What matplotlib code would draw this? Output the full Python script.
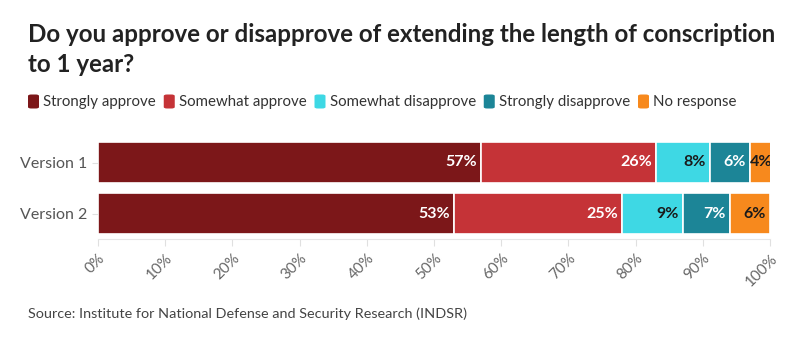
import matplotlib
matplotlib.use("Agg")
import matplotlib.pyplot as plt
from matplotlib.patches import FancyBboxPatch
import numpy as np

categories = ["Version 1", "Version 2"]
series_names = ["Strongly approve", "Somewhat approve", "Somewhat disapprove",
                "Strongly disapprove", "No response"]
values = {
    "Strongly approve": [57, 53],
    "Somewhat approve": [26, 25],
    "Somewhat disapprove": [8, 9],
    "Strongly disapprove": [6, 7],
    "No response": [4, 6],
}
colors = ["#7c1719", "#c53337", "#3ed8e4", "#1c8597", "#f7891d"]
label_colors = ["white", "white", "#1a1a1a", "white", "#1a1a1a"]
xticks = list(range(0, 101, 10))
xticklabels = [f"{t}%" for t in xticks]

plt.rcParams['font.family'] = ['Lato', 'DejaVu Sans']
fig = plt.figure(figsize=(8, 3.53), dpi=100)
ax = fig.add_axes([98/800, 1-239/353, (770-98)/800, (239-137)/353])

y = np.arange(len(categories))
left = np.zeros(len(categories))
for name, col, lc in zip(series_names, colors, label_colors):
    v = np.array(values[name], dtype=float)
    bars = ax.barh(y, v, left=left, color=col, height=0.8, edgecolor="white", linewidth=1.2)
    for i, b in enumerate(bars):
        end = left[i] + v[i]
        ax.text(end - 0.6, y[i], f"{int(v[i])}%", ha="right", va="center",
                color=lc, fontsize=11.5, fontweight="bold", clip_on=True)
    left += v

ax.set_xlim(0, 100)
ax.set_ylim(1.5, -0.5)
ax.set_yticks(y)
ax.set_yticklabels(categories, fontsize=11.5, color="#555555")
ax.set_xticks(xticks)
ax.set_xticklabels(xticklabels, rotation=45, fontsize=11, color="#666666",
                   ha="right", rotation_mode="anchor")
for s in ["top", "right", "left"]:
    ax.spines[s].set_visible(False)
ax.spines["bottom"].set_color("#e6e6e6")
ax.tick_params(axis="x", length=5, color="#e0e0e0", pad=4)
ax.tick_params(axis="y", length=4, color="#e0e0e0")

fig.text(28/800, 1-35/353, "Do you approve or disapprove of extending the length of conscription",
         fontsize=17.4, fontweight="bold", color="#222222", va="center")
fig.text(28/800, 1-64/353, "to 1 year?", fontsize=17.4, fontweight="bold",
         color="#222222", va="center")

# legend
xpos = 28
ly = 1 - 102/353
for name, col in zip(series_names, colors):
    p = FancyBboxPatch((xpos/800, ly - 6.5/353), 11/800, 14/353,
                       boxstyle="round,pad=0,rounding_size=0.004",
                       transform=fig.transFigure, facecolor=col, edgecolor="none")
    fig.patches.append(p)
    t = fig.text((xpos + 15)/800, ly, name, fontsize=10.8, color="#333333", va="center")
    fig.canvas.draw()
    bb = t.get_window_extent()
    xpos = bb.x1 + 8

fig.text(28/800, 1-314/353, "Source: Institute for National Defense and Security Research (INDSR)",
         fontsize=10.4, color="#444444", va="center")

fig.savefig("out.png", dpi=100)
